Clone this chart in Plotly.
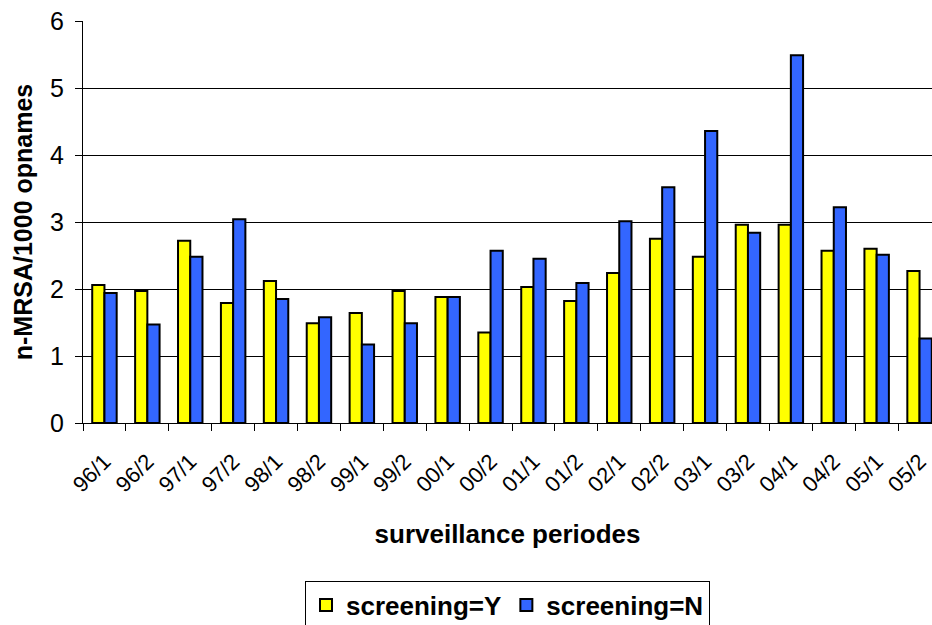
import plotly.graph_objects as go

# Surveillance periods (half-years) and n-MRSA rates per 1000 admissions
periods = ["96/1", "96/2", "97/1", "97/2", "98/1", "98/2", "99/1", "99/2",
           "00/1", "00/2", "01/1", "01/2", "02/1", "02/2", "03/1", "03/2",
           "04/1", "04/2", "05/1", "05/2"]
screening_y = [2.06, 1.97, 2.72, 1.79, 2.12, 1.49, 1.64, 1.97, 1.88, 1.35,
               2.03, 1.82, 2.24, 2.75, 2.48, 2.96, 2.96, 2.57, 2.60, 2.27]
screening_n = [1.94, 1.47, 2.48, 3.04, 1.85, 1.58, 1.17, 1.49, 1.88, 2.57,
               2.45, 2.09, 3.01, 3.52, 4.36, 2.84, 5.49, 3.22, 2.51, 1.26]
y_ticks = [0, 1, 2, 3, 4, 5, 6]

FONT = "Liberation Sans, Arial, sans-serif"

fig = go.Figure()
fig.add_trace(go.Bar(
    x=periods, y=screening_y, name="screening=Y",
    marker=dict(color="#FFFF00", line=dict(color="#000000", width=2)),
))
fig.add_trace(go.Bar(
    x=periods, y=screening_n, name="screening=N",
    marker=dict(color="#3366FF", line=dict(color="#000000", width=2)),
))

fig.update_layout(
    width=932, height=625,
    margin=dict(l=83, r=0, t=21, b=202, autoexpand=False),
    paper_bgcolor="white", plot_bgcolor="white",
    barmode="group", bargap=0.43, bargroupgap=0,
    font=dict(family=FONT, color="#000000"),
    showlegend=True,
    legend=dict(
        orientation="h", x=0.5, xanchor="center", y=-0.392, yanchor="top",
        bordercolor="#000000", borderwidth=1,
        font=dict(family=FONT, size=26, color="#000000", weight="bold"),
        itemwidth=30, traceorder="normal",
    ),
)

# the plot area runs slightly past the right edge of the page,
# so the last slot is only partly visible
fig.update_xaxes(
    type="category", range=[-0.5, 19.29], automargin=False,
    showline=True, linecolor="#000000", linewidth=1,
    ticks="outside", ticklen=7, tickcolor="#000000", tickwidth=1,
    tickson="boundaries", tickangle=-45,
    tickfont=dict(family=FONT, size=22, color="#000000"),
    ticklabelstandoff=16,
    showgrid=False,
    title=dict(text="surveillance periodes", standoff=28,
               font=dict(family=FONT, size=26, color="#000000", weight="bold")),
)
fig.update_yaxes(
    range=[0, 6], tickvals=y_ticks, automargin=False,
    showline=True, linecolor="#000000", linewidth=1,
    ticks="outside", ticklen=7, tickcolor="#000000", tickwidth=1,
    tickfont=dict(family=FONT, size=25, color="#000000"),
    ticklabelstandoff=6,
    showgrid=True, gridcolor="#000000", gridwidth=1,
    zeroline=False,
    title=dict(text="n-MRSA/1000 opnames", standoff=10,
               font=dict(family=FONT, size=25, color="#000000", weight="bold")),
)

fig.write_html("out.html")
